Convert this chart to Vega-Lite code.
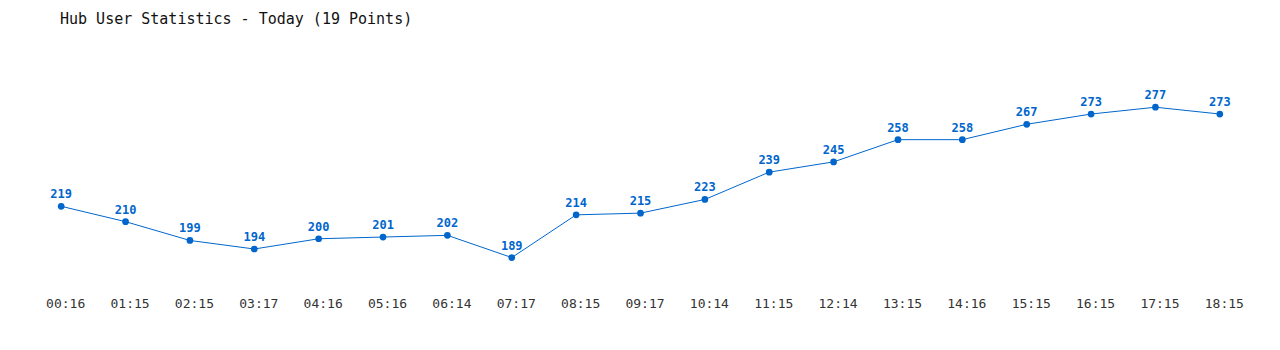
{
  "$schema": "https://vega.github.io/schema/vega-lite/v6.json",
  "autosize": "none",
  "width": 1223,
  "height": 205,
  "padding": {"left": 29, "top": 85, "right": 28, "bottom": 60},
  "background": "white",
  "title": {
    "text": "Hub User Statistics - Today (19 Points)",
    "anchor": "start",
    "frame": "group",
    "dx": 31,
    "offset": 58,
    "font": "DejaVu Sans Mono",
    "fontSize": 15,
    "fontWeight": "normal",
    "color": "#111111"
  },
  "config": {"view": {"stroke": null}},
  "data": {
    "values": [
      {"time": "00:16", "users": 219},
      {"time": "01:15", "users": 210},
      {"time": "02:15", "users": 199},
      {"time": "03:17", "users": 194},
      {"time": "04:16", "users": 200},
      {"time": "05:16", "users": 201},
      {"time": "06:14", "users": 202},
      {"time": "07:17", "users": 189},
      {"time": "08:15", "users": 214},
      {"time": "09:17", "users": 215},
      {"time": "10:14", "users": 223},
      {"time": "11:15", "users": 239},
      {"time": "12:14", "users": 245},
      {"time": "13:15", "users": 258},
      {"time": "14:16", "users": 258},
      {"time": "15:15", "users": 267},
      {"time": "16:15", "users": 273},
      {"time": "17:15", "users": 277},
      {"time": "18:15", "users": 273}
    ]
  },
  "encoding": {
    "x": {
      "field": "time",
      "type": "ordinal",
      "sort": null,
      "scale": {"type": "point", "padding": 0.5},
      "axis": {
        "title": null,
        "domain": false,
        "ticks": false,
        "grid": false,
        "labelAngle": 0,
        "labelPadding": 7,
        "labelOffset": 4,
        "labelFont": "DejaVu Sans Mono",
        "labelFontSize": 13,
        "labelColor": "#333333"
      }
    },
    "y": {
      "field": "users",
      "type": "quantitative",
      "scale": {"domain": [170, 290], "zero": false, "nice": false},
      "axis": null
    }
  },
  "layer": [
    {"mark": {"type": "line", "color": "#0066cc", "strokeWidth": 1}},
    {"mark": {"type": "point", "filled": true, "color": "#0066cc", "size": 45, "opacity": 1}},
    {
      "mark": {
        "type": "text",
        "color": "#0066cc",
        "font": "DejaVu Sans Mono",
        "fontSize": 12,
        "fontWeight": "bold",
        "baseline": "bottom",
        "dy": -5
      },
      "encoding": {"text": {"field": "users", "type": "quantitative"}}
    }
  ]
}
